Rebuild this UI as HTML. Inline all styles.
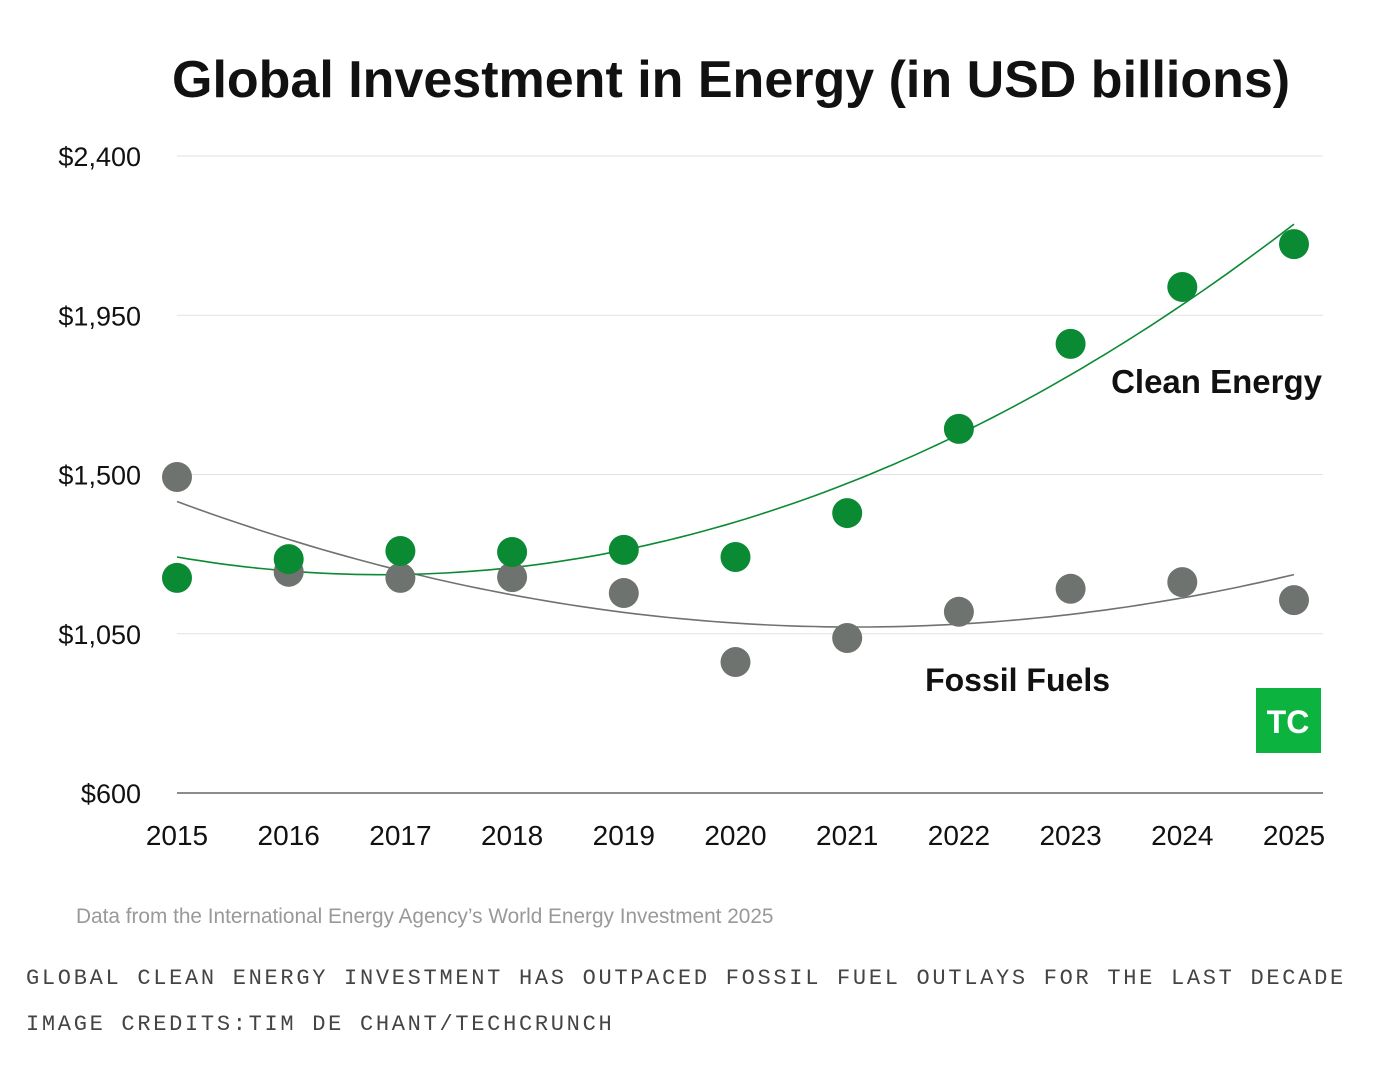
<!DOCTYPE html>
<html><head><meta charset="utf-8"><style>
body{margin:0;background:#fff;width:1390px;height:1072px;overflow:hidden;font-family:"Liberation Sans",sans-serif}
svg{position:absolute;left:0;top:0}
.mono{position:absolute;left:26px;font-family:"Liberation Mono",monospace;font-size:22px;letter-spacing:2.7px;color:#444}
</style></head><body>
<svg width="1390" height="1072" id="chart">
<text x="172" y="97" font-size="52" font-weight="bold" fill="#111">Global Investment in Energy (in USD billions)</text>
<g id="grid"></g><g id="lines"></g><g id="dots"></g>
<text x="1322" y="393" text-anchor="end" font-size="33" font-weight="bold" fill="#111">Clean Energy</text>
<text x="1110" y="691" text-anchor="end" font-size="32" font-weight="bold" fill="#111">Fossil Fuels</text>
<g><rect x="1256" y="688" width="65" height="65" fill="#0cb33f"/><text x="1288" y="733" text-anchor="middle" font-size="32" font-weight="bold" fill="#fff">TC</text></g>
<text x="76" y="923" font-size="20.8" fill="#999">Data from the International Energy Agency’s World Energy Investment 2025</text>
</svg>
<div class="mono" style="top:966px">GLOBAL CLEAN ENERGY INVESTMENT HAS OUTPACED FOSSIL FUEL OUTLAYS FOR THE LAST DECADE</div>
<div class="mono" style="top:1012px">IMAGE CREDITS:TIM DE CHANT/TECHCRUNCH</div>
<script>
const years=[2015,2016,2017,2018,2019,2020,2021,2022,2023,2024,2025];
const clean=[1208,1261,1284,1281,1287,1267,1391,1629,1869,2030,2151];
const fossil=[1493,1225,1208,1210,1165,970,1038,1112,1177,1196,1145];
const yTicks=[600,1050,1500,1950,2400];
const yTickLabels=["$600","$1,050","$1,500","$1,950","$2,400"];
const NS="http://www.w3.org/2000/svg";
const x=y=>177+(y-2015)*(1294-177)/10;
const yv=v=>793-(v-600)*637/1800;
function mk(t,a,p){const e=document.createElementNS(NS,t);for(const k in a)e.setAttribute(k,a[k]);p.appendChild(e);return e;}
const grid=document.getElementById('grid');
yTicks.forEach((t,i)=>{
 const l=mk('line',{x1:177,x2:1323,y1:yv(t),y2:yv(t),stroke:i==0?'#666':'#e2e2e2','stroke-width':i==0?1.5:1},grid);
 
 
 const tx=mk('text',{x:141,y:yv(t)+10,'text-anchor':'end','font-size':27,fill:'#111'},grid);
 tx.textContent=yTickLabels[i];
 
 
});
years.forEach(y=>{
 const tx=mk('text',{x:x(y),y:845,'text-anchor':'middle','font-size':28,fill:'#111'},grid);
 tx.textContent=y;
 
 
});
function quadFit(xs,ys){
 const n=xs.length;let S=[0,0,0,0,0],T=[0,0,0];
 xs.forEach((xx,i)=>{for(let k=0;k<5;k++)S[k]+=xx**k;for(let k=0;k<3;k++)T[k]+=ys[i]*xx**k;});
 const A=[[S[0],S[1],S[2],T[0]],[S[1],S[2],S[3],T[1]],[S[2],S[3],S[4],T[2]]];
 for(let i=0;i<3;i++){for(let j=i+1;j<3;j++){const f=A[j][i]/A[i][i];for(let k=i;k<4;k++)A[j][k]-=f*A[i][k];}}
 const c=[0,0,0];for(let i=2;i>=0;i--){let s=A[i][3];for(let k=i+1;k<3;k++)s-=A[i][k]*c[k];c[i]=s/A[i][i];}
 return t=>c[0]+c[1]*t+c[2]*t*t;
}
const lines=document.getElementById('lines'),dots=document.getElementById('dots');
[[fossil,'#6f7370','fossil'],[clean,'#0b8a34','clean']].forEach(([d,col,nm])=>{
 const xs=years.map(y=>y-2015);const f=quadFit(xs,d);
 let pts=[];for(let t=0;t<=10.001;t+=0.1)pts.push(x(2015+t).toFixed(1)+','+yv(f(t)).toFixed(1));
 const pl=mk('polyline',{points:pts.join(' '),fill:'none',stroke:col,'stroke-width':1.6},lines);
 
 
 d.forEach((v,i)=>{
  const c=mk('circle',{cx:x(years[i]),cy:yv(v),r:15,fill:col},dots);
  
  
 });
});
</script>
</body></html>
